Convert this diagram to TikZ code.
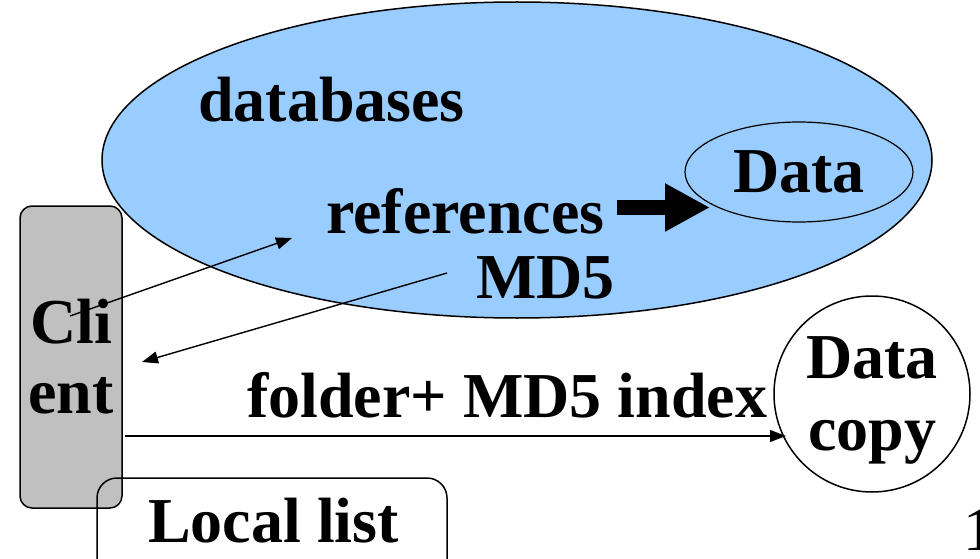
\documentclass[tikz,border=0pt]{standalone}
\usepackage{fontspec}
\setmainfont{Liberation Serif}
\usetikzlibrary{shapes.geometric,arrows.meta}
\definecolor{dbblue}{HTML}{99CCFF}
\definecolor{clientgray}{HTML}{C0C0C0}
\tikzset{
  lbl/.style={font=\fontsize{64}{70}\selectfont\bfseries, inner sep=0pt, anchor=base west},
  thinarrow/.style={line width=1.4pt, -{Triangle[length=16pt,width=12pt]}},
  fatarrow/.style={line width=15pt, -{Triangle[length=45pt,width=45pt]}},
}
\begin{document}
\begin{tikzpicture}[x=1pt,y=-1pt]
\useasboundingbox (0,0) rectangle (980,559);

% database ellipse with the data store inside
\node[ellipse, draw, line width=1.5pt, fill=dbblue, minimum width=830pt, minimum height=316pt, inner sep=0pt] (db) at (517,160) {};
\node[ellipse, draw, line width=1.2pt, minimum width=228pt, minimum height=100pt, inner sep=0pt] (data) at (799,172) {};
\node[lbl] (dbtxt) at (198,122) {databases};
\node[lbl] (datatxt) at (733,192) {Data};
\node[lbl] (refs) at (326,233) {references};
\node[lbl] (md5) at (476,298) {MD5};

% client box
\node[rectangle, rounded corners=12pt, draw, line width=1.5pt, fill=clientgray, minimum width=102pt, minimum height=302pt, inner sep=0pt] (client) at (71,357) {};
\node[lbl, anchor=base] (cli) at (71,343) {Cli};
\node[lbl, anchor=base] (ent) at (71,413) {ent};

% local copy of the data
\node[circle, draw, line width=1.5pt, minimum size=196pt, inner sep=0pt] (copy) at (872,394) {};
\node[lbl, anchor=base] (copy1) at (872,378) {Data};
\node[lbl, anchor=base] (copy2) at (872,450) {copy};

% local list box
\node[rectangle, rounded corners=20pt, draw, line width=1.5pt, minimum width=350pt, minimum height=130pt, inner sep=0pt] (local) at (272,543) {};
\node[lbl] (localtxt) at (148,542) {Local list};

\node[lbl] (idx) at (247,417) {folder+ MD5 index};
\node[font=\fontsize{62}{70}\selectfont, inner sep=0pt, anchor=base west] (pg) at (963,550) {1};

% connectors
\coordinate (reqA) at (70,316);
\coordinate (reqB) at (292,238);
\coordinate (ansA) at (447,273);
\coordinate (ansB) at (142,362);
\coordinate (fatA) at (617,207.5);
\coordinate (fatB) at (710,207.5);
\coordinate (idxA) at (125,436);
\coordinate (idxB) at (786,436);

\draw[thinarrow] (reqA) -- (reqB);
\draw[thinarrow] (ansA) -- (ansB);
\draw[fatarrow] (fatA) -- (fatB);
\draw[thinarrow, line width=1.1pt] (idxA) -- (idxB);
\end{tikzpicture}
\end{document}
